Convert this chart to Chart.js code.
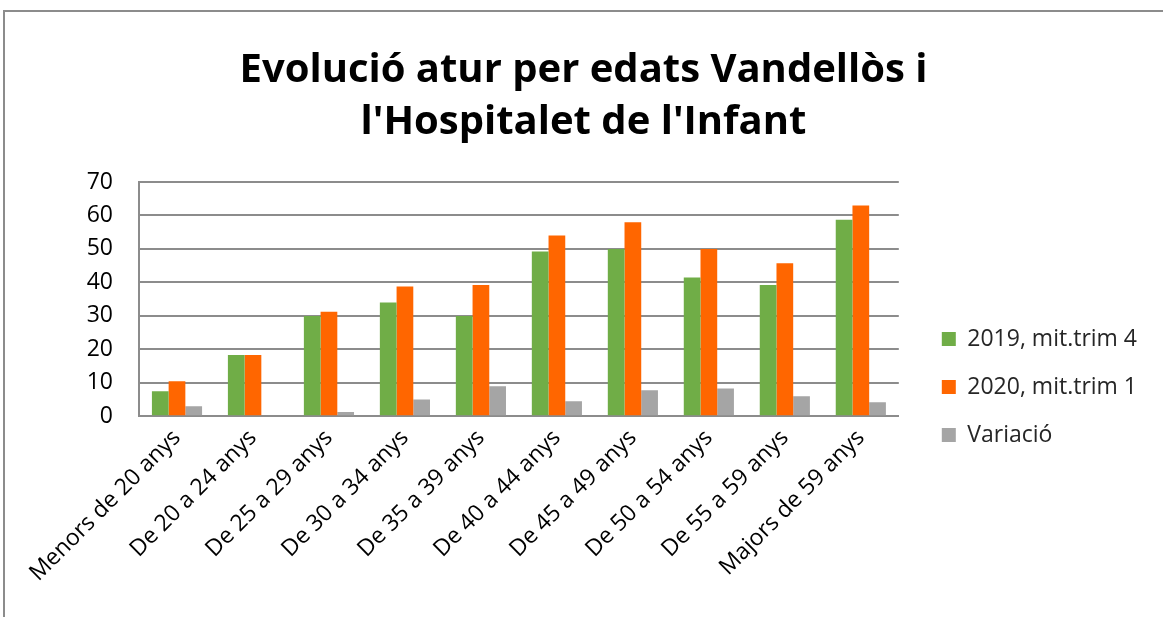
<!DOCTYPE html>
<html>
<head>
<meta charset="utf-8">
<script src="https://cdn.jsdelivr.net/npm/chart.js@4/dist/chart.umd.min.js"></script>
<style>
  html, body { margin: 0; padding: 0; background: #ffffff; overflow: hidden; }
  #wrap { position: relative; width: 1163px; height: 617px; }
  #frame { position: absolute; left: 3px; top: 10px; width: 1300px; height: 700px;
           border-top: 2px solid #8c8c8c; border-left: 2px solid #8c8c8c; pointer-events: none; }
  canvas { position: absolute; left: 0; top: 0; }
</style>
</head>
<body>
<div id="wrap">
  <canvas id="c" width="1163" height="617"></canvas>
  <div id="frame"></div>
</div>
<script>
const categories = ['Menors de 20 anys', 'De 20 a 24 anys', 'De 25 a 29 anys', 'De 30 a 34 anys',
  'De 35 a 39 anys', 'De 40 a 44 anys', 'De 45 a 49 anys', 'De 50 a 54 anys',
  'De 55 a 59 anys', 'Majors de 59 anys'];
const seriesNames = ['2019, mit.trim 4', '2020, mit.trim 1', 'Variació'];
const values2019 = [7.5, 18.3, 30, 34, 30, 49.2, 50, 41.5, 39.2, 58.7];
const values2020 = [10.5, 18.3, 31.2, 38.8, 39.2, 54, 58, 50, 45.7, 63];
const valuesVar = [3, 0, 1.3, 5, 9, 4.5, 7.8, 8.3, 6, 4.2];
const titleLines = ['Evolució atur per edats Vandellòs i', "l'Hospitalet de l'Infant"];
const yMin = 0, yMax = 70, yStep = 10;

const FONT = '"Open Sans", Lato, sans-serif';

new Chart(document.getElementById('c'), {
  type: 'bar',
  data: {
    labels: categories,
    datasets: [
      { label: seriesNames[0], data: values2019, backgroundColor: '#70AD47' },
      { label: seriesNames[1], data: values2020, backgroundColor: '#FF6600' },
      { label: seriesNames[2], data: valuesVar, backgroundColor: '#A5A5A5' }
    ]
  },
  options: {
    responsive: false,
    animation: false,
    devicePixelRatio: 1,
    layout: { padding: { left: 20, right: 16, top: 10, bottom: 22 } },
    datasets: { bar: { categoryPercentage: 0.66, barPercentage: 1.0 } },
    plugins: {
      title: {
        display: true,
        text: titleLines,
        color: '#000000',
        font: { family: FONT, size: 40, weight: 'bold', lineHeight: 1.3 },
        padding: { top: 35, bottom: 33 }
      },
      legend: {
        position: 'right',
        align: 'center',
        maxWidth: 320,
        title: {
          display: true,
          text: '',
          font: { size: 1 },
          padding: { top: 168, bottom: 0 }
        },
        labels: {
          color: '#262626',
          font: { family: FONT, size: 23 },
          boxWidth: 14,
          boxHeight: 14,
          padding: 25
        }
      },
      tooltip: { enabled: false }
    },
    scales: {
      x: {
        grid: { display: false, drawTicks: false },
        border: { display: true, color: '#8c8c8c', width: 2 },
        ticks: {
          color: '#000000',
          font: { family: FONT, size: 23 },
          maxRotation: 45, minRotation: 45,
          padding: 8,
          autoSkip: false
        }
      },
      y: {
        min: yMin, max: yMax,
        grid: { color: '#8c8c8c', lineWidth: 2, drawTicks: false },
        border: { display: true, color: '#8c8c8c', width: 2 },
        ticks: {
          stepSize: yStep,
          color: '#000000',
          font: { family: FONT, size: 23 },
          padding: 26
        },
        afterFit: function (s) { s.width = 119; }
      },
      gap: {
        position: 'right',
        display: true,
        grid: { display: false, drawTicks: false },
        border: { display: false },
        ticks: { display: false },
        afterFit: function (s) { s.width = 18; }
      }
    }
  }
});
</script>
</body>
</html>
